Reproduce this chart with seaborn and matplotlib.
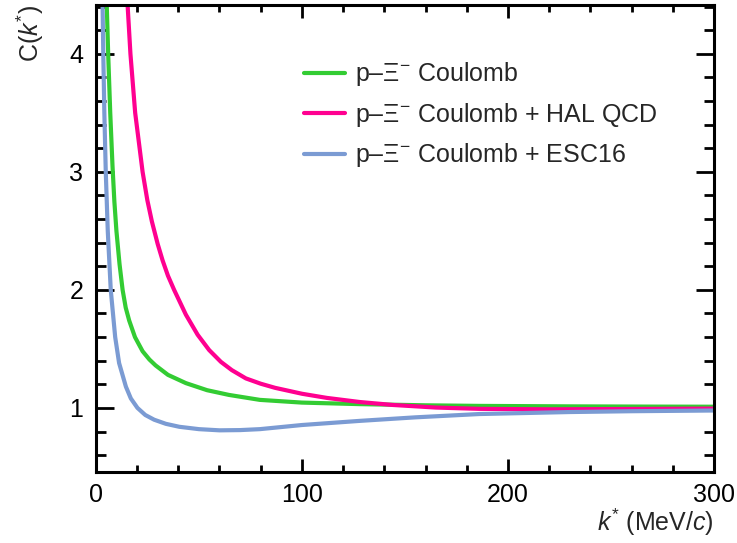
import numpy as np
import pandas as pd
import matplotlib
matplotlib.use("Agg")
import matplotlib.pyplot as plt
from matplotlib.ticker import MultipleLocator
import seaborn as sns

# Correlation functions C(k*) for p–Xi- pairs
k_coulomb = [4.5, 5.3, 6.0, 7.0, 8.1, 9.0, 10.0, 11.5, 13.0, 14.5, 16.2, 19.0, 22.7,
             26.0, 29.0, 35.0, 43.7, 54.0, 64.6, 79.6, 100, 128, 160, 186, 230, 270, 300]
c_coulomb = [5.0, 4.42, 4.0, 3.5, 3.05, 2.75, 2.5, 2.22, 2.0, 1.85, 1.74, 1.6, 1.48,
             1.41, 1.36, 1.28, 1.21, 1.15, 1.11, 1.068, 1.045, 1.032, 1.022, 1.017, 1.013,
             1.011, 1.01]

k_halqcd = [14.0, 15.4, 16.8, 19.1, 22.7, 25.0, 27.2, 30.0, 32.4, 35.0, 38.0, 43.7,
            49.4, 55.0, 60.7, 66.0, 72.8, 80.0, 87.0, 100, 112, 128, 144, 165, 186,
            220, 260, 300]
c_halqcd = [5.0, 4.42, 4.0, 3.5, 3.0, 2.76, 2.58, 2.39, 2.25, 2.12, 2.0, 1.79,
            1.62, 1.49, 1.39, 1.32, 1.25, 1.205, 1.17, 1.12, 1.085, 1.05, 1.025, 1.003,
            0.992, 0.988, 0.991, 0.994]

k_esc16 = [2.9, 3.28, 3.63, 4.14, 4.83, 5.8, 7.25, 9.4, 11.3, 14.6, 17.0, 20.2, 24.0,
           28.3, 34.0, 40.5, 50, 60, 70, 79.6, 100, 128, 155, 186, 230, 260, 300]
c_esc16 = [5.0, 4.42, 4.0, 3.5, 3.0, 2.5, 2.0, 1.6, 1.38, 1.18, 1.08, 1.0, 0.94,
           0.90, 0.865, 0.84, 0.82, 0.81, 0.812, 0.82, 0.855, 0.89, 0.92, 0.948, 0.965,
           0.972, 0.978]

labels = [r"p–Ξ$^{-}$ Coulomb",
          r"p–Ξ$^{-}$ Coulomb + HAL QCD",
          r"p–Ξ$^{-}$ Coulomb + ESC16"]
colors = ["#33cc33", "#ff0090", "#7b9bd3"]

df = pd.concat([
    pd.DataFrame({"k": k_coulomb, "C": c_coulomb, "model": labels[0]}),
    pd.DataFrame({"k": k_halqcd, "C": c_halqcd, "model": labels[1]}),
    pd.DataFrame({"k": k_esc16, "C": c_esc16, "model": labels[2]}),
], ignore_index=True)

sns.set_style("ticks")
plt.rcParams["font.family"] = ["Liberation Sans", "DejaVu Sans"]
plt.rcParams["mathtext.fontset"] = "custom"
plt.rcParams["mathtext.rm"] = "Liberation Sans"
plt.rcParams["mathtext.it"] = "Liberation Sans:italic"
plt.rcParams["mathtext.bf"] = "Liberation Sans:bold"

FS = 18

fig = plt.figure(figsize=(7.37, 5.43), dpi=100)
ax = fig.add_axes([0.130, 0.131, 0.839, 0.860])

sns.lineplot(data=df, x="k", y="C", hue="model", hue_order=labels,
             palette=colors, estimator=None, sort=False, linewidth=3.0, ax=ax)

ax.set_xlim(0, 300)
ax.set_ylim(0.458, 4.415)
ax.xaxis.set_major_locator(MultipleLocator(100))
ax.xaxis.set_minor_locator(MultipleLocator(20))
ax.yaxis.set_major_locator(MultipleLocator(1))
ax.yaxis.set_minor_locator(MultipleLocator(0.2))

for s in ax.spines.values():
    s.set_linewidth(2.2)
    s.set_color("black")

ax.tick_params(which="both", direction="in", top=True, right=True,
               width=2.0, colors="black", labelsize=FS)
ax.tick_params(axis="y", which="major", length=13, pad=9)
ax.tick_params(axis="y", which="minor", length=7)
ax.tick_params(axis="x", which="major", length=9.5, pad=8)
ax.tick_params(axis="x", which="minor", length=5)

ax.set_xlabel(r"$k^{*}$ (MeV/$c$)", fontsize=FS, loc="right")
ax.xaxis.set_label_coords(1.0, -0.075)
ax.set_ylabel(r"C($k^{*}$)", fontsize=FS, loc="top")
ax.yaxis.set_label_coords(-0.08, 1.0)

handles, labs = ax.get_legend_handles_labels()
ax.legend(handles, labs, loc="upper left", bbox_to_anchor=(0.337, 0.881),
          frameon=False, fontsize=FS, handlelength=1.65, handletextpad=0.4,
          labelspacing=0.5, borderpad=0, borderaxespad=0)

fig.savefig("out.png", dpi=100)
